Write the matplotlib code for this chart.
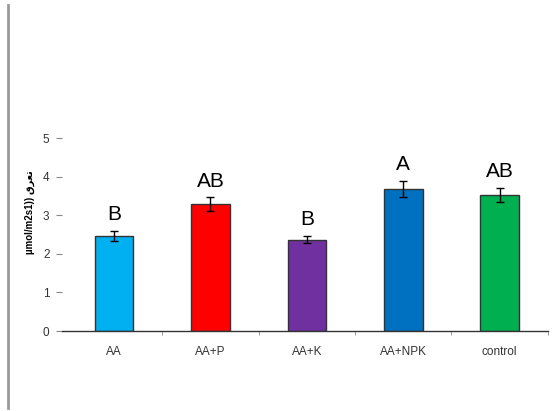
import matplotlib
matplotlib.use("Agg")
import matplotlib.pyplot as plt
import numpy as np

categories = ["AA", "AA+P", "AA+K", "AA+NPK", "control"]
values = [2.46, 3.29, 2.37, 3.68, 3.52]
errors = [0.14, 0.17, 0.10, 0.21, 0.18]
letters = ["B", "AB", "B", "A", "AB"]
colors = ["#00B0F0", "#FF0000", "#7030A0", "#0070C0", "#00B050"]
ylabel = "\u00b5mol/m2s1)) " + "\uFED5\uFEAE\uFECC\uFE97"

plt.rcParams['font.family'] = ['Liberation Sans', 'DejaVu Sans']

fig = plt.figure(figsize=(5.54, 4.11), dpi=100)
ax = fig.add_axes([0.1119, 0.1946, 0.877, 0.4696])

x = np.arange(len(categories))
ax.bar(x, values, width=0.4, color=colors, edgecolor="#333333", linewidth=1.0, zorder=2)
ax.errorbar(x, values, yerr=errors, fmt='none', ecolor='black', elinewidth=1.0,
            capsize=3, capthick=1.0, zorder=3)
for xi, v, e, t in zip(x, values, errors, letters):
    ax.text(xi, v + e + 0.42, t, ha='center', va='center', fontsize=15, color='black')

ax.set_xlim(-0.54, 4.5)
ax.set_ylim(0, 5)
ax.set_yticks([0, 1, 2, 3, 4, 5])
ax.set_xticks(x)
ax.set_xticklabels(categories, fontsize=8.5, color='#333333')
ax.set_xticks(np.arange(0.5, 5, 1.0), minor=True)
ax.tick_params(axis='x', which='major', length=0, pad=11)
ax.tick_params(axis='x', which='minor', length=3, color='#888888', direction='out')
ax.tick_params(axis='y', which='major', length=4, color='#888888', labelsize=8.5,
               labelcolor='#333333', pad=5, direction='out')
for s in ['top', 'right', 'left']:
    ax.spines[s].set_visible(False)
ax.spines['bottom'].set_color('#333333')
ax.spines['bottom'].set_linewidth(1.0)

fig.text(30 / 554, 1 - 212 / 411, ylabel, rotation=90, ha='center', va='center',
         fontsize=7, fontweight='bold')

# frame line on the left of the picture
fig.add_artist(matplotlib.lines.Line2D([8 / 554, 8 / 554], [1 - 5 / 411, 1 - 408 / 411],
                                       color='#999999', linewidth=2.0))

fig.savefig("out.png", dpi=100)
